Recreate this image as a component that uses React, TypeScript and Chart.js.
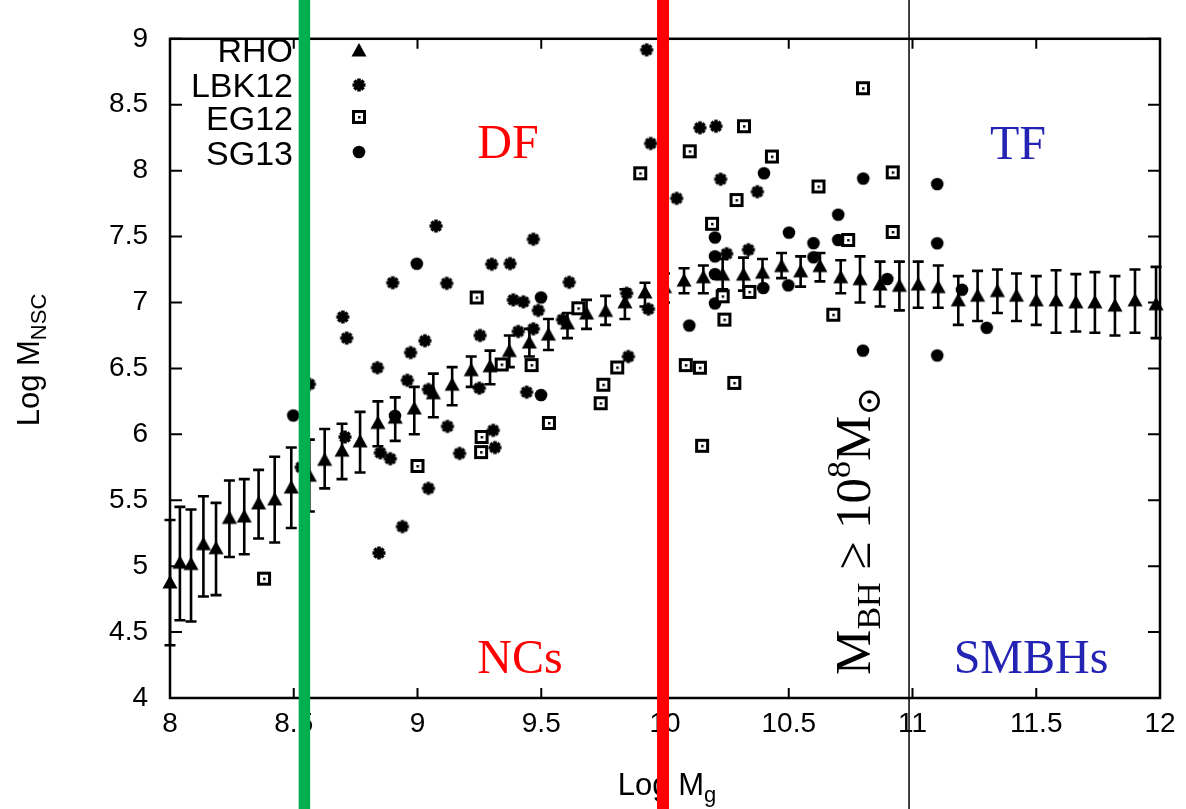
import React, { useEffect, useRef } from 'react';
import { Chart, registerables } from 'chart.js';

Chart.register(...registerables);

// ---------- axis ticks ----------
const X_TICKS = [8, 8.5, 9, 9.5, 10, 10.5, 11, 11.5, 12];
const Y_TICKS = [4, 4.5, 5, 5.5, 6, 6.5, 7, 7.5, 8, 8.5, 9];

// ---------- RHO (triangles with error bars) ----------
const rhoX = [8.0, 8.04, 8.085, 8.135, 8.186, 8.24, 8.3, 8.358, 8.423, 8.49, 8.563, 8.625, 8.695, 8.768, 8.84, 8.91, 8.987, 9.064, 9.14, 9.217, 9.293, 9.371, 9.452, 9.529, 9.606, 9.683, 9.76, 9.838, 9.919, 9.998, 10.077, 10.155, 10.233, 10.317, 10.394, 10.471, 10.548, 10.626, 10.71, 10.788, 10.869, 10.947, 11.023, 11.104, 11.185, 11.263, 11.343, 11.42, 11.5, 11.58, 11.66, 11.737, 11.818, 11.899, 11.984];
const rhoY = [4.88, 5.03, 5.02, 5.17, 5.14, 5.37, 5.38, 5.48, 5.51, 5.6, 5.69, 5.81, 5.88, 5.95, 6.09, 6.13, 6.2, 6.315, 6.38, 6.49, 6.52, 6.635, 6.7, 6.76, 6.845, 6.92, 6.94, 7.005, 7.08, 7.12, 7.17, 7.195, 7.215, 7.215, 7.23, 7.28, 7.24, 7.28, 7.195, 7.18, 7.14, 7.13, 7.14, 7.12, 7.02, 7.055, 7.09, 7.055, 7.02, 7.02, 7.005, 7.005, 6.98, 7.02, 6.99];
const rhoLow = [4.4, 4.59, 4.58, 4.77, 4.78, 5.07, 5.09, 5.21, 5.18, 5.29, 5.415, 5.59, 5.66, 5.71, 5.91, 5.95, 6.0, 6.13, 6.22, 6.36, 6.38, 6.51, 6.59, 6.64, 6.73, 6.8, 6.83, 6.875, 6.97, 7.0, 7.07, 7.07, 7.1, 7.09, 7.11, 7.185, 7.12, 7.16, 7.07, 7.0, 6.97, 6.94, 6.96, 6.96, 6.83, 6.86, 6.92, 6.86, 6.83, 6.77, 6.78, 6.77, 6.75, 6.77, 6.73];
const rhoHigh = [5.35, 5.45, 5.43, 5.53, 5.48, 5.65, 5.66, 5.73, 5.83, 5.9, 5.96, 6.04, 6.08, 6.17, 6.25, 6.28, 6.36, 6.46, 6.51, 6.59, 6.635, 6.75, 6.8, 6.875, 6.92, 7.02, 7.05, 7.1, 7.15, 7.22, 7.26, 7.28, 7.33, 7.34, 7.33, 7.375, 7.35, 7.375, 7.32, 7.35, 7.31, 7.31, 7.31, 7.28, 7.2, 7.24, 7.25, 7.22, 7.2, 7.245, 7.215, 7.23, 7.2, 7.25, 7.27];

// ---------- LBK12 (stars) ----------
const lbkX = [9.075, 9.3, 9.374, 8.9, 9.118, 8.698, 8.714, 9.253, 9.03, 8.972, 8.838, 8.563, 8.959, 9.044, 9.25, 9.121, 9.17, 8.85, 8.89, 8.707, 9.306, 9.313, 8.53, 9.044, 8.939, 8.844, 9.926, 9.468, 9.942, 10.047, 10.141, 10.206, 10.225, 10.373, 10.337, 10.249, 9.613, 9.387, 9.428, 9.488, 9.845, 9.933, 9.586, 9.407, 9.468, 9.441, 9.852];
const lbkY = [7.58, 7.29, 7.295, 7.15, 7.145, 6.89, 6.73, 6.75, 6.71, 6.62, 6.505, 6.38, 6.41, 6.34, 6.35, 6.06, 5.855, 5.86, 5.815, 5.98, 6.03, 5.9, 5.75, 5.59, 5.3, 5.1, 8.916, 7.48, 8.206, 7.79, 8.325, 8.337, 7.935, 7.84, 7.4, 7.37, 7.153, 7.02, 7.005, 6.94, 7.07, 6.95, 6.87, 6.78, 6.8, 6.32, 6.59];

// ---------- EG12 (dotted squares) ----------
const egX = [8.38, 9.0, 9.239, 9.259, 9.257, 9.34, 9.461, 9.65, 9.807, 9.751, 9.74, 9.531, 10.084, 10.141, 10.28, 10.15, 10.24, 10.233, 10.341, 10.68, 9.9, 10.1, 10.319, 10.432, 10.289, 10.19, 10.62, 10.8, 10.92, 10.92, 10.74];
const egY = [4.905, 5.76, 7.038, 5.98, 5.865, 6.53, 6.525, 6.956, 6.507, 6.376, 6.236, 6.086, 6.525, 6.505, 6.39, 5.913, 6.87, 7.047, 7.08, 6.907, 7.98, 8.147, 8.337, 8.107, 7.777, 7.597, 7.88, 8.625, 7.987, 7.535, 7.474];

// ---------- SG13 (filled circles) ----------
const sgX = [8.498, 8.997, 8.909, 9.499, 9.499, 10.098, 10.202, 10.202, 10.202, 10.397, 10.498, 10.6, 10.6, 10.4, 10.202, 10.501, 10.801, 10.7, 10.7, 11.1, 11.1, 10.898, 10.8, 11.1, 11.2, 11.3];
const sgY = [6.143, 7.294, 6.14, 7.038, 6.298, 6.825, 6.993, 7.35, 7.215, 7.11, 7.13, 7.343, 7.45, 7.98, 7.493, 7.53, 7.94, 7.666, 7.474, 7.898, 7.449, 7.178, 6.635, 6.598, 7.097, 6.808];

const SERIES_LABELS = ['RHO', 'LBK12', 'EG12', 'SG13'];

// vertical separator positions (data x)
const GREEN_LINE_X = 8.543;
const RED_LINE_X = 9.992;
const BLACK_LINE_X = 10.986;

const SANS = '"Liberation Sans", Arial, Helvetica, sans-serif';
const SERIF = '"Liberation Serif", "Times New Roman", "DejaVu Serif", serif';

function makeCanvas(size: number, draw: (c: CanvasRenderingContext2D) => void) {
  const cv = document.createElement('canvas');
  cv.width = size;
  cv.height = size;
  const c = cv.getContext('2d')!;
  draw(c);
  return cv;
}

function makeMarkers() {
  const tri = makeCanvas(18, (c) => {
    c.fillStyle = '#000';
    c.beginPath();
    c.moveTo(9, 2);
    c.lineTo(16.5, 15.5);
    c.lineTo(1.5, 15.5);
    c.closePath();
    c.fill();
  });
  const star = makeCanvas(16, (c) => {
    c.strokeStyle = '#000';
    c.lineWidth = 3.6;
    c.beginPath();
    for (let k = 0; k < 4; k++) {
      const a = (k * Math.PI) / 4;
      const dx = Math.cos(a) * 6.5;
      const dy = Math.sin(a) * 6.5;
      c.moveTo(8 - dx, 8 - dy);
      c.lineTo(8 + dx, 8 + dy);
    }
    c.stroke();
    c.fillStyle = '#000';
    c.fillRect(4, 4, 8, 8);
  });
  const sq = makeCanvas(16, (c) => {
    c.fillStyle = '#fff';
    c.fillRect(1, 1, 14, 14);
    c.strokeStyle = '#000';
    c.lineWidth = 3;
    c.strokeRect(2.5, 2.5, 11, 11);
    c.fillStyle = '#000';
    c.fillRect(7, 7, 2.5, 2.5);
  });
  const circ = makeCanvas(16, (c) => {
    c.fillStyle = '#000';
    c.beginPath();
    c.arc(8, 8, 6.3, 0, Math.PI * 2);
    c.fill();
  });
  return { tri, star, sq, circ };
}

type Part = { t: string; font: string; dy: number };

function drawParts(ctx: CanvasRenderingContext2D, parts: Part[], x: number, y: number) {
  let total = 0;
  const ws = parts.map((p) => {
    ctx.font = p.font;
    const w = ctx.measureText(p.t).width;
    total += w;
    return w;
  });
  let cx = x - total / 2;
  ctx.textAlign = 'left';
  ctx.textBaseline = 'alphabetic';
  parts.forEach((p, i) => {
    ctx.font = p.font;
    ctx.fillText(p.t, cx, y + p.dy);
    cx += ws[i];
  });
}

export default function App() {
  const ref = useRef<HTMLCanvasElement | null>(null);

  useEffect(() => {
    const canvas = ref.current;
    if (!canvas) return;
    const m = makeMarkers();
    const markerList = [m.tri, m.star, m.sq, m.circ];

    const decor = {
      id: 'decor',
      beforeDatasetsDraw(chart: any) {
        const { ctx, chartArea: a, scales } = chart;
        const xs = scales.x;
        const ys = scales.y;
        ctx.save();
        ctx.strokeStyle = '#000';
        ctx.lineWidth = 2.5;
        ctx.strokeRect(a.left, a.top, a.right - a.left, a.bottom - a.top);
        ctx.lineWidth = 2;
        ctx.beginPath();
        X_TICKS.forEach((v) => {
          const px = xs.getPixelForValue(v);
          ctx.moveTo(px, a.bottom);
          ctx.lineTo(px, a.bottom - 10);
          ctx.moveTo(px, a.top);
          ctx.lineTo(px, a.top + 10);
        });
        Y_TICKS.forEach((v) => {
          const py = ys.getPixelForValue(v);
          ctx.moveTo(a.left, py);
          ctx.lineTo(a.left + 12, py);
          ctx.moveTo(a.right, py);
          ctx.lineTo(a.right - 12, py);
        });
        ctx.stroke();
        // error bars for RHO
        ctx.lineWidth = 2.6;
        ctx.beginPath();
        rhoX.forEach((xv, i) => {
          const px = xs.getPixelForValue(xv);
          const lo = ys.getPixelForValue(rhoLow[i]);
          const hi = ys.getPixelForValue(rhoHigh[i]);
          ctx.moveTo(px, lo);
          ctx.lineTo(px, hi);
          ctx.moveTo(px - 5.5, lo);
          ctx.lineTo(px + 5.5, lo);
          ctx.moveTo(px - 5.5, hi);
          ctx.lineTo(px + 5.5, hi);
        });
        ctx.stroke();
        ctx.restore();
      },
      afterDraw(chart: any) {
        const { ctx, scales } = chart;
        const xs = scales.x;
        const H = chart.height;
        ctx.save();
        // legend
        const rowsBase = [62, 97, 130, 165];
        const rowsMid = [50, 85, 117, 152];
        ctx.fillStyle = '#000';
        ctx.font = '34px ' + SANS;
        ctx.textAlign = 'right';
        ctx.textBaseline = 'alphabetic';
        SERIES_LABELS.forEach((lab, i) => {
          ctx.fillText(lab, 293, rowsBase[i]);
          const mk = markerList[i];
          ctx.drawImage(mk, 359 - mk.width / 2, rowsMid[i] - mk.height / 2);
        });
        // region labels
        ctx.textAlign = 'center';
        ctx.font = '48px ' + SERIF;
        ctx.fillStyle = '#ff0000';
        ctx.fillText('DF', 508, 158);
        ctx.fillText('NCs', 520, 673);
        ctx.fillStyle = '#2323b4';
        ctx.fillText('TF', 1018, 159);
        ctx.fillText('SMBHs', 1031, 673);
        // rotated M_BH label
        ctx.fillStyle = '#000';
        ctx.save();
        ctx.translate(870, 531);
        ctx.rotate(-Math.PI / 2);
        drawParts(ctx, [
          { t: 'M', font: '51px ' + SERIF, dy: 0 },
          { t: 'BH', font: '34px ' + SERIF, dy: 10 },
          { t: ' \u2265 10', font: '51px ' + SERIF, dy: 0 },
          { t: '8', font: '34px ' + SERIF, dy: -20 },
          { t: 'M', font: '51px ' + SERIF, dy: 0 },
          { t: '\u2299', font: '34px ' + SERIF, dy: 10 },
        ], 0, 0);
        ctx.restore();
        // axis titles
        ctx.save();
        ctx.translate(39, 360);
        ctx.rotate(-Math.PI / 2);
        drawParts(ctx, [
          { t: 'Log M', font: '31px ' + SANS, dy: 0 },
          { t: 'NSC', font: '22px ' + SANS, dy: 7 },
        ], 0, 0);
        ctx.restore();
        drawParts(ctx, [
          { t: 'Log M', font: '31px ' + SANS, dy: 0 },
          { t: 'g', font: '22px ' + SANS, dy: 7 },
        ], 667, 795);
        // vertical separator lines spanning full height
        const lines = [
          { v: BLACK_LINE_X, c: '#000', w: 1.5 },
          { v: GREEN_LINE_X, c: '#00b050', w: 11.5 },
          { v: RED_LINE_X, c: '#ff0000', w: 12 },
        ];
        lines.forEach((l) => {
          const px = xs.getPixelForValue(l.v);
          ctx.strokeStyle = l.c;
          ctx.lineWidth = l.w;
          ctx.beginPath();
          ctx.moveTo(px, 0);
          ctx.lineTo(px, H);
          ctx.stroke();
        });
        ctx.restore();
      },
    };

    const tickFont = { family: SANS, size: 28 };

    const chart = new Chart(canvas, {
      type: 'scatter',
      data: {
        datasets: [
          {
            label: SERIES_LABELS[0],
            data: rhoX.map((x, i) => ({ x, y: rhoY[i] })),
            pointStyle: m.tri as any,
            pointRadius: 8,
            clip: false as any,
          },
          {
            label: SERIES_LABELS[1],
            data: lbkX.map((x, i) => ({ x, y: lbkY[i] })),
            pointStyle: m.star as any,
            pointRadius: 6,
            clip: false as any,
          },
          {
            label: SERIES_LABELS[2],
            data: egX.map((x, i) => ({ x, y: egY[i] })),
            pointStyle: m.sq as any,
            pointRadius: 7,
            clip: false as any,
          },
          {
            label: SERIES_LABELS[3],
            data: sgX.map((x, i) => ({ x, y: sgY[i] })),
            pointStyle: m.circ as any,
            pointRadius: 6,
            clip: false as any,
          },
        ],
      },
      options: {
        animation: false,
        responsive: false,
        devicePixelRatio: 1,
        events: [],
        layout: { padding: { left: 0, right: 26, top: 22, bottom: 0 } },
        plugins: { legend: { display: false }, tooltip: { enabled: false } },
        scales: {
          x: {
            type: 'linear',
            min: 8,
            max: 12,
            afterFit: (s: any) => { s.height = 111; },
            afterBuildTicks: (s: any) => { s.ticks = X_TICKS.map((v) => ({ value: v })); },
            grid: { display: false, drawTicks: false },
            border: { display: false },
            ticks: {
              padding: 9,
              color: '#000',
              font: tickFont,
              maxRotation: 0,
              autoSkip: false,
              callback: (v: any) => String(v),
            },
          },
          y: {
            type: 'linear',
            min: 4,
            max: 9,
            afterFit: (s: any) => { s.width = 170; },
            afterBuildTicks: (s: any) => { s.ticks = Y_TICKS.map((v) => ({ value: v })); },
            grid: { display: false, drawTicks: false },
            border: { display: false },
            ticks: {
              padding: 22,
              color: '#000',
              font: tickFont,
              autoSkip: false,
              callback: (v: any) => String(v),
            },
          },
        },
      } as any,
      plugins: [decor],
    });

    return () => chart.destroy();
  }, []);

  return (
    <div style={{ position: 'fixed', left: 0, top: 0, width: 1186, height: 809, background: '#fff' }}>
      <canvas ref={ref} width={1186} height={809} style={{ display: 'block' }} />
    </div>
  );
}
